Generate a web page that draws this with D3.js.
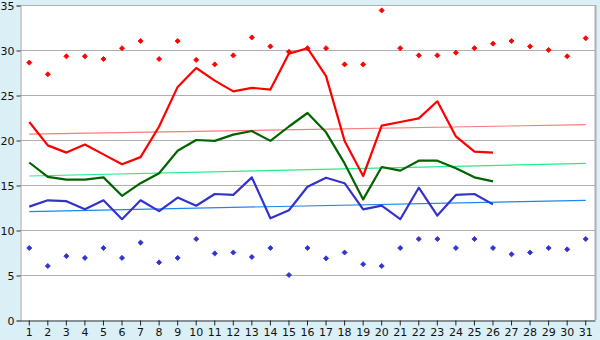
<!DOCTYPE html>
<html>
<head>
<meta charset="utf-8">
<script src="https://cdn.jsdelivr.net/npm/d3@7"></script>
<style>
  html, body { margin: 0; padding: 0; background: #daeff6; }
  svg { display: block; }
  .axis text { font-family: "DejaVu Sans", sans-serif; font-size: 11px; fill: #111; }
</style>
</head>
<body>
<div id="chart"></div>
<script>
// days on the x axis
const days = d3.range(1, 32).map(String);

// daily series (days 1-26)
const redLine = [22.0, 19.4, 18.6, 19.5, 18.4, 17.3, 18.1, 21.5, 25.9, 28.0,
                 26.6, 25.4, 25.8, 25.6, 29.6, 30.2, 27.1, 19.9, 16.0, 21.6,
                 22.0, 22.4, 24.3, 20.4, 18.7, 18.6];
const greenLine = [17.5, 15.9, 15.6, 15.6, 15.85, 13.8, 15.2, 16.3, 18.8, 20.0,
                   19.9, 20.6, 21.0, 19.9, 21.5, 23.0, 20.85, 17.4, 13.4, 17.0,
                   16.6, 17.7, 17.7, 16.85, 15.85, 15.4];
const blueLine = [12.6, 13.3, 13.2, 12.3, 13.3, 11.2, 13.3, 12.1, 13.6, 12.7,
                  14.0, 13.9, 15.85, 11.3, 12.2, 14.8, 15.8, 15.2, 12.3, 12.7,
                  11.2, 14.7, 11.6, 13.9, 14.0, 12.85];

// marker series (all 31 days)
const redMarks = [28.6, 27.3, 29.3, 29.3, 29.0, 30.2, 31.0, 29.0, 31.0, 28.9,
                  28.4, 29.4, 31.4, 30.4, 29.8, 30.2, 30.2, 28.4, 28.4, 34.4,
                  30.2, 29.4, 29.4, 29.7, 30.2, 30.7, 31.0, 30.4, 30.0, 29.3, 31.3];
const blueMarks = [8.0, 6.0, 7.1, 6.9, 8.0, 6.9, 8.6, 6.4, 6.9, 9.0,
                   7.4, 7.5, 7.0, 8.0, 5.0, 8.0, 6.85, 7.5, 6.2, 6.0,
                   8.0, 9.0, 9.0, 8.0, 9.0, 8.0, 7.3, 7.5, 8.0, 7.85, 9.0];

// trend lines: value at day 1 and day 31
const trendRed = [20.65, 21.7];
const trendGreen = [16.0, 17.4];
const trendBlue = [12.05, 13.3];

const yTicks = [0, 5, 10, 15, 20, 25, 30, 35];

const W = 600, H = 340;
const plot = { left: 20, right: 595, top: 5, bottom: 320 };

const svg = d3.select("#chart").append("svg")
    .attr("width", W)
    .attr("height", H);

const x = d3.scaleBand()
    .domain(days)
    .range([plot.left, plot.right]);

const y = d3.scaleLinear()
    .domain([0, 35])
    .range([plot.bottom, plot.top]);

const cx = function(d, i) { return x(days[i]) + x.bandwidth() / 2; };

// plot background
svg.append("rect")
    .attr("x", plot.left)
    .attr("y", plot.top)
    .attr("width", plot.right - plot.left)
    .attr("height", plot.bottom - plot.top)
    .attr("fill", "#ffffff");

// horizontal gridlines
svg.append("g")
    .selectAll("line")
    .data(yTicks.slice(1))
    .join("line")
    .attr("x1", plot.left)
    .attr("x2", plot.right)
    .attr("y1", function(d){ return y(d) + 0.5; })
    .attr("y2", function(d){ return y(d) + 0.5; })
    .attr("stroke", "#b0b0b0")
    .attr("stroke-width", 1);

// right border
svg.append("line")
    .attr("x1", plot.right + 0.5).attr("x2", plot.right + 0.5)
    .attr("y1", plot.top).attr("y2", plot.bottom)
    .attr("stroke", "#b0b0b0")
    .attr("stroke-width", 2);

// y axis
const yAxis = svg.append("g")
    .attr("class", "axis")
    .attr("transform", "translate(" + (plot.left + 0.5) + ",0.5)")
    .call(d3.axisLeft(y).tickValues(yTicks).tickSize(4).tickPadding(2));
yAxis.select(".domain").attr("stroke", "#a0a0a0");
yAxis.selectAll(".tick line").attr("stroke", "#333");

// x axis
const xAxis = svg.append("g")
    .attr("class", "axis")
    .attr("transform", "translate(0," + (plot.bottom + 0.5) + ")")
    .call(d3.axisBottom(x).tickSize(5).tickPadding(3).tickSizeOuter(0));
xAxis.select(".domain").attr("stroke", "#333");
xAxis.selectAll(".tick line").attr("stroke", "#222");

// trend lines
const trends = [
    { v: trendRed, color: "#ff7b7b" },
    { v: trendGreen, color: "#22ee88" },
    { v: trendBlue, color: "#1a88ee" }
];
svg.append("g")
    .selectAll("line")
    .data(trends)
    .join("line")
    .attr("x1", x(days[0]) + x.bandwidth() / 2)
    .attr("x2", x(days[30]) + x.bandwidth() / 2)
    .attr("y1", function(d){ return y(d.v[0]); })
    .attr("y2", function(d){ return y(d.v[1]); })
    .attr("stroke", function(d){ return d.color; })
    .attr("stroke-width", 1.2);

// main lines
const line = d3.line()
    .x(cx)
    .y(function(d){ return y(d); });

[[redLine, "#ff0000"], [greenLine, "#006400"], [blueLine, "#3333cc"]].forEach(function(s) {
    svg.append("path")
        .datum(s[0])
        .attr("d", line)
        .attr("fill", "none")
        .attr("stroke", s[1])
        .attr("stroke-width", 2.2)
        .attr("stroke-linejoin", "round");
});

// markers: small rotated squares
const marker = d3.symbol().type(d3.symbolSquare).size(13);
[[redMarks, "#ff0000"], [blueMarks, "#3333cc"]].forEach(function(s) {
    svg.append("g")
        .selectAll("path")
        .data(s[0])
        .join("path")
        .attr("d", marker)
        .attr("transform", function(d, i){ return "translate(" + cx(d, i) + "," + y(d) + ") rotate(45)"; })
        .attr("fill", s[1])
        .attr("stroke", s[1])
        .attr("stroke-width", 0.8);
});
</script>
</body>
</html>
